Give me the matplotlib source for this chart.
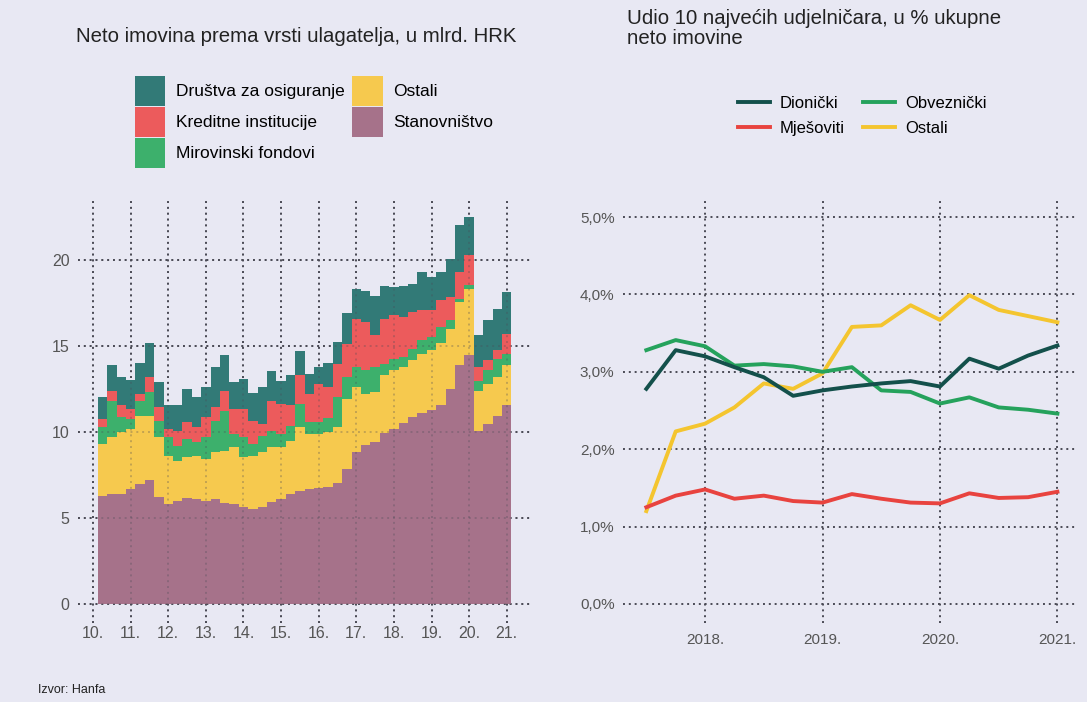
import numpy as np
import matplotlib
matplotlib.use("Agg")
import matplotlib.pyplot as plt
from matplotlib.ticker import FuncFormatter

plt.rcParams['font.family'] = ['Liberation Sans', 'DejaVu Sans']

# ---- left chart: net assets by investor type, bn HRK (quarterly, 2010-2021)
quarters = 2010.25 + 0.25 * np.arange(44)
stanovnistvo = [6.30, 6.40, 6.40, 6.70, 7.00, 7.20, 6.20, 5.83, 6.00, 6.17, 6.10,
                6.00, 6.10, 5.90, 5.81, 5.62, 5.52, 5.62, 5.91, 6.10, 6.40, 6.59,
                6.69, 6.75, 6.80, 7.07, 7.85, 8.82, 9.25, 9.40, 9.95, 10.20, 10.55,
                10.90, 11.10, 11.28, 11.55, 12.50, 13.88, 14.46, 10.09, 10.48, 10.96, 11.55]
ostali = [3.01, 3.30, 3.60, 3.49, 3.96, 3.76, 3.50, 2.80, 2.34, 2.36, 2.53,
          2.44, 2.72, 3.02, 3.30, 2.91, 3.11, 3.20, 3.20, 3.01, 3.10, 3.69,
          3.21, 3.15, 3.20, 3.21, 4.05, 3.79, 2.98, 2.92, 3.35, 3.39, 3.23,
          3.27, 3.46, 3.47, 3.65, 3.52, 3.69, 3.89, 2.33, 2.33, 2.24, 2.33]
mirovinski = [0.97, 2.14, 0.86, 0.59, 0.88, 1.36, 0.97, 1.07, 0.86, 1.07, 0.77,
              1.26, 1.85, 2.33, 0.79, 1.17, 0.68, 0.98, 0.98, 0.79, 0.88, 1.36,
              0.70, 0.70, 0.80, 1.75, 1.30, 1.17, 1.36, 1.46, 0.67, 0.68, 0.58,
              0.68, 0.78, 0.78, 0.91, 0.48, 0.20, 0.19, 0.58, 0.78, 1.07, 0.68]
kreditne = [0.49, 0.58, 0.69, 0.57, 0.39, 0.88, 0.78, 0.50, 0.89, 0.97, 0.88,
            1.16, 0.78, 1.17, 1.45, 1.65, 1.36, 0.68, 1.75, 1.74, 1.17, 1.66,
            1.63, 2.21, 1.80, 1.95, 1.94, 2.82, 2.81, 1.85, 2.63, 2.52, 2.34,
            2.14, 1.74, 1.55, 1.56, 1.36, 1.55, 1.75, 0.78, 0.58, 0.48, 1.16]
drustva = [1.26, 1.46, 1.65, 1.71, 1.77, 1.96, 1.45, 1.35, 1.46, 1.96, 1.75,
           1.74, 2.31, 2.08, 1.55, 1.75, 1.63, 2.12, 1.71, 1.36, 1.75, 1.40,
           1.17, 0.99, 1.40, 1.26, 1.76, 1.75, 1.80, 2.27, 1.88, 1.66, 1.78,
           1.65, 2.24, 1.95, 1.65, 2.18, 2.72, 2.23, 1.85, 2.33, 2.43, 2.43]
left_years = list(range(2010, 2022))
left_labels = ["%02d." % (y - 2000) for y in left_years]
left_yticks = [0, 5, 10, 15, 20]

# ---- right chart: share of 10 largest unitholders, % of net assets
dates = 2017.5 + 0.25 * np.arange(15)
dionicki = [2.78, 3.28, 3.20, 3.06, 2.93, 2.69, 2.76, 2.81, 2.85, 2.88, 2.81, 3.17, 3.04, 3.21, 3.34]
obveznicki = [3.28, 3.41, 3.33, 3.08, 3.10, 3.07, 3.00, 3.06, 2.76, 2.74, 2.59, 2.67, 2.54, 2.51, 2.46]
mjesoviti = [1.25, 1.40, 1.48, 1.36, 1.40, 1.33, 1.31, 1.42, 1.36, 1.31, 1.30, 1.43, 1.37, 1.38, 1.45]
ostali_f = [1.20, 2.23, 2.33, 2.54, 2.85, 2.78, 2.98, 3.58, 3.60, 3.86, 3.67, 3.99, 3.80, 3.72, 3.64]
right_years = [2018, 2019, 2020, 2021]

bg = '#E8E8F3'
grid_kw = dict(color='#4a4a55', linestyle=(0, (1, 2)), linewidth=1.4)

fig = plt.figure(figsize=(10.87, 7.02), dpi=100, facecolor=bg)

# left
ax1 = fig.add_axes([0.0718, 0.1125, 0.4158, 0.6026])
ax1.set_facecolor(bg)
layers = [
    (stanovnistvo, 'Stanovništvo', '#A6728A'),
    (ostali, 'Ostali', '#F6C94E'),
    (mirovinski, 'Mirovinski fondovi', '#3DB06C'),
    (kreditne, 'Kreditne institucije', '#EC5B5C'),
    (drustva, 'Društva za osiguranje', '#327A77'),
]
bottom = np.zeros(len(quarters))
handles = {}
for vals, name, col in layers:
    h = ax1.bar(quarters, vals, width=0.25, bottom=bottom, color=col,
                linewidth=0, label=name, zorder=2)
    handles[name] = h
    bottom = bottom + np.array(vals)

ax1.set_xlim(2009.6, 2021.62)
ax1.set_ylim(-1.1, 23.5)
ax1.set_xticks(left_years)
ax1.set_xticklabels(left_labels)
ax1.set_yticks(left_yticks)
ax1.set_axisbelow(True)
ax1.grid(True, **grid_kw)
# faint dotted grid showing through the bars
for yr in left_years:
    ax1.axvline(yr, alpha=0.3, zorder=3, **grid_kw)
for yv in left_yticks:
    ax1.axhline(yv, alpha=0.3, zorder=3, **grid_kw)

# right
ax2 = fig.add_axes([0.573, 0.1125, 0.416, 0.6026])
ax2.set_facecolor(bg)
ax2.plot(dates, ostali_f, color='#F4C52F', lw=2.8, label='Ostali', zorder=3)
ax2.plot(dates, mjesoviti, color='#E8433F', lw=2.8, label='Mješoviti', zorder=3)
ax2.plot(dates, obveznicki, color='#25A25C', lw=2.8, label='Obveznički', zorder=3)
ax2.plot(dates, dionicki, color='#13504B', lw=2.8, label='Dionički', zorder=3)
ax2.set_xlim(2017.3, 2021.15)
ax2.set_ylim(-0.246, 5.22)
ax2.set_xticks(right_years)
ax2.set_xticklabels(["%d." % y for y in right_years])
ax2.set_yticks([0, 1, 2, 3, 4, 5])
ax2.yaxis.set_major_formatter(FuncFormatter(lambda v, p: ("%.1f%%" % v).replace('.', ',')))
ax2.grid(True, zorder=1, **grid_kw)

for ax in (ax1, ax2):
    for s in ax.spines.values():
        s.set_visible(False)
    ax.tick_params(length=0, colors='#555555')
ax1.tick_params(axis='x', labelsize=11.5, pad=2.5)
ax1.tick_params(axis='y', labelsize=11.5, pad=6)
ax2.tick_params(axis='x', labelsize=11, pad=7)
ax2.tick_params(axis='y', labelsize=11, pad=6)

# titles
fig.text(0.070, 1 - 37 / 702, "Neto imovina prema vrsti ulagatelja, u mlrd. HRK",
         fontsize=14.7, color='#222222', va='center')
fig.text(0.577, 1 - 9 / 702, "Udio 10 najvećih udjelničara, u % ukupne\nneto imovine",
         fontsize=14.7, color='#222222', va='top', linespacing=1.1)

# legends
order1 = ['Društva za osiguranje', 'Kreditne institucije', 'Mirovinski fondovi',
          'Ostali', 'Stanovništvo']
fig.legend([handles[n] for n in order1], order1, loc='upper left',
           bbox_to_anchor=(0.124, 0.892), ncol=2, frameon=False, fontsize=12.5,
           handlelength=1.73, handleheight=2.28, handletextpad=0.63,
           labelspacing=0.05, columnspacing=0.46, borderpad=0, borderaxespad=0)

lh = {l.get_label(): l for l in ax2.get_lines()}
order2 = ['Dionički', 'Mješoviti', 'Obveznički', 'Ostali']
fig.legend([lh[n] for n in order2], order2, loc='upper left',
           bbox_to_anchor=(0.679, 0.863), ncol=2, frameon=False, fontsize=12,
           handlelength=1.92, handletextpad=0.6, labelspacing=0.56,
           columnspacing=1.08, borderpad=0, borderaxespad=0)

fig.text(0.035, 1 - 690 / 702, "Izvor: Hanfa", fontsize=9, color='#222222', va='center')

fig.savefig("out.png", dpi=100, facecolor=bg)
